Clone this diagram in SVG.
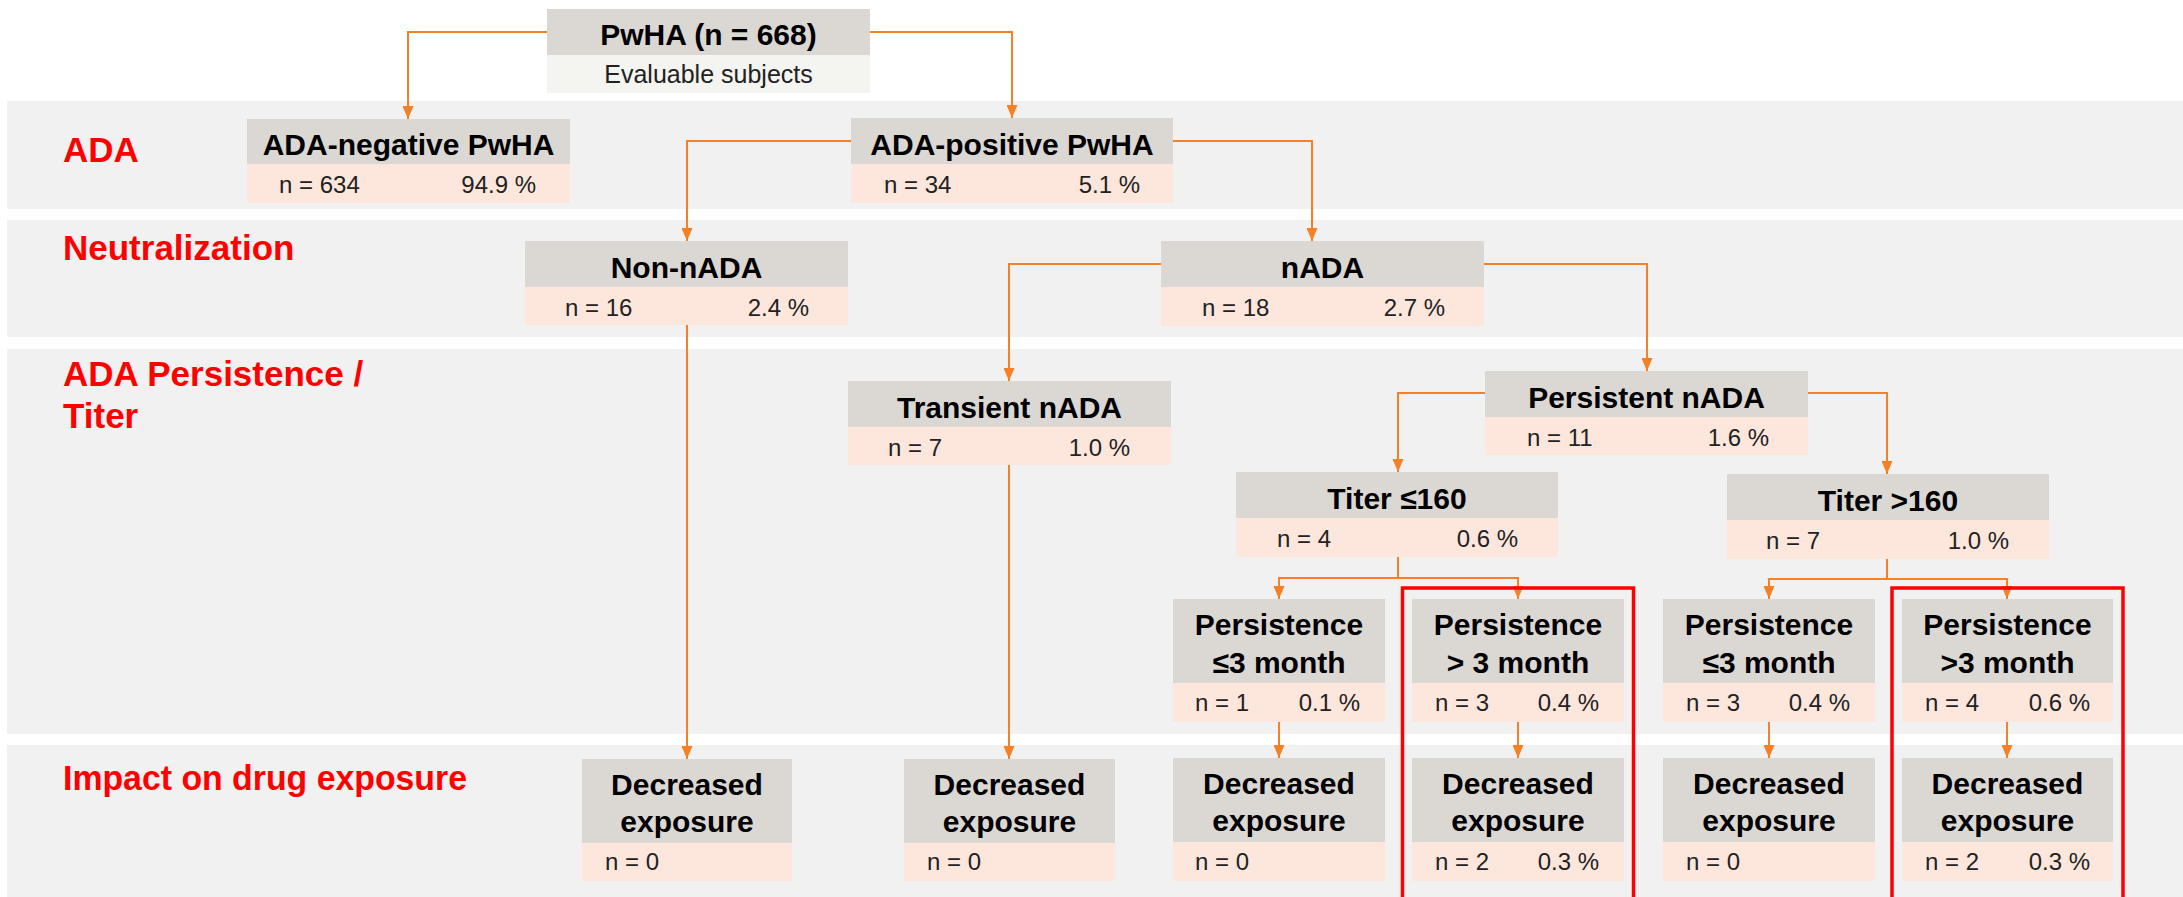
<svg xmlns="http://www.w3.org/2000/svg" width="2183" height="897" viewBox="0 0 2183 897">
<style>
.band{fill:#F1F1F1}
.hd{fill:#DBD7D3}
.pl{fill:#FDE7DD}
.sub{fill:#F4F4F0}
.t{font-family:"Liberation Sans",Arial,sans-serif;font-weight:700;font-size:30px;fill:#000;text-anchor:middle}
.s{font-family:"Liberation Sans",Arial,sans-serif;font-size:25px;fill:#222;text-anchor:middle}
.n{font-family:"Liberation Sans",Arial,sans-serif;font-size:24px;fill:#222}
.p{font-family:"Liberation Sans",Arial,sans-serif;font-size:24px;fill:#222;text-anchor:end}
.lbl{font-family:"Liberation Sans",Arial,sans-serif;font-weight:700;font-size:35px;fill:#FF0000}
.c{stroke:#F58025;stroke-width:2;fill:none}
.ca{stroke:#F58025;stroke-width:2;fill:none;marker-end:url(#ah)}
.red{fill:none;stroke:#FF0000;stroke-width:3.5}
</style>
<defs>
<marker id="ah" markerUnits="userSpaceOnUse" markerWidth="13" markerHeight="11" viewBox="0 0 13 11" refX="13" refY="5.5" orient="auto">
<path d="M0,0 L13,5.5 L0,11 z" fill="#F58025"/>
</marker>
</defs>
<rect width="2183" height="897" fill="#FFFFFF"/>
<g id="bands">
<rect class="band" x="7" y="101" width="2176" height="108"/>
<rect class="band" x="7" y="220" width="2176" height="117"/>
<rect class="band" x="7" y="349" width="2176" height="385"/>
<rect class="band" x="7" y="745" width="2176" height="152"/>
<text class="lbl" x="63" y="162">ADA</text>
<text class="lbl" x="63" y="260">Neutralization</text>
<text class="lbl" x="63" y="386">ADA Persistence /</text>
<text class="lbl" x="63" y="428">Titer</text>
<text class="lbl" x="63" y="790" textLength="404" lengthAdjust="spacingAndGlyphs">Impact on drug exposure</text>
</g>
<g id="connectors">
<path class="ca" d="M547,32 H408 V119"/>
<path class="ca" d="M870,32 H1012 V118"/>
<path class="ca" d="M851,141 H687 V241"/>
<path class="ca" d="M1173,141 H1312 V241"/>
<path class="ca" d="M687,325 V759"/>
<path class="ca" d="M1161,264 H1009 V381"/>
<path class="ca" d="M1484,264 H1647 V371"/>
<path class="ca" d="M1009,465 V759"/>
<path class="ca" d="M1485,393 H1398 V472"/>
<path class="ca" d="M1808,393 H1887 V474"/>
<path class="c" d="M1398,557 V578"/>
<path class="ca" d="M1398,578 H1279 V599"/>
<path class="ca" d="M1398,578 H1518 V599"/>
<path class="c" d="M1887,559 V579"/>
<path class="ca" d="M1887,579 H1769 V599"/>
<path class="ca" d="M1887,579 H2007 V599"/>
<path class="ca" d="M1279,722 V758"/>
<path class="ca" d="M1518,722 V758"/>
<path class="ca" d="M1769,722 V758"/>
<path class="ca" d="M2007,722 V758"/>
</g>
<g id="pwha">
<rect class="hd" x="547" y="9" width="323" height="46"/>
<rect class="sub" x="547" y="55" width="323" height="38"/>
<text class="t" x="708.5" y="45">PwHA (n = 668)</text>
<text class="s" x="708.5" y="83">Evaluable subjects</text>
</g>
<g id="ada-neg">
<rect class="hd" x="247" y="119" width="323" height="45"/>
<rect class="pl" x="247" y="164" width="323" height="39"/>
<text class="t" x="408.5" y="155">ADA-negative PwHA</text>
<text class="n" x="279" y="193">n = 634</text>
<text class="p" x="536" y="193">94.9 %</text>
</g>
<g id="ada-pos">
<rect class="hd" x="851" y="118" width="322" height="46"/>
<rect class="pl" x="851" y="164" width="322" height="39"/>
<text class="t" x="1012" y="155">ADA-positive PwHA</text>
<text class="n" x="884" y="193">n = 34</text>
<text class="p" x="1140" y="193">5.1 %</text>
</g>
<g id="non-nada">
<rect class="hd" x="525" y="241" width="323" height="46"/>
<rect class="pl" x="525" y="287" width="323" height="38"/>
<text class="t" x="686.5" y="278">Non-nADA</text>
<text class="n" x="565" y="316">n = 16</text>
<text class="p" x="809" y="316">2.4 %</text>
</g>
<g id="nada">
<rect class="hd" x="1161" y="241" width="323" height="46"/>
<rect class="pl" x="1161" y="287" width="323" height="39"/>
<text class="t" x="1322.5" y="278">nADA</text>
<text class="n" x="1202" y="316">n = 18</text>
<text class="p" x="1445" y="316">2.7 %</text>
</g>
<g id="transient">
<rect class="hd" x="848" y="381" width="323" height="46"/>
<rect class="pl" x="848" y="427" width="323" height="38"/>
<text class="t" x="1009.5" y="418">Transient nADA</text>
<text class="n" x="888" y="456">n = 7</text>
<text class="p" x="1130" y="456">1.0 %</text>
</g>
<g id="persistent">
<rect class="hd" x="1485" y="371" width="323" height="46"/>
<rect class="pl" x="1485" y="417" width="323" height="38"/>
<text class="t" x="1646.5" y="408">Persistent nADA</text>
<text class="n" x="1527" y="446">n = 11</text>
<text class="p" x="1769" y="446">1.6 %</text>
</g>
<g id="titer-le160">
<rect class="hd" x="1236" y="472" width="322" height="46"/>
<rect class="pl" x="1236" y="518" width="322" height="39"/>
<text class="t" x="1397" y="509">Titer ≤160</text>
<text class="n" x="1277" y="547">n = 4</text>
<text class="p" x="1518" y="547">0.6 %</text>
</g>
<g id="titer-gt160">
<rect class="hd" x="1727" y="474" width="322" height="46"/>
<rect class="pl" x="1727" y="520" width="322" height="39"/>
<text class="t" x="1888" y="511">Titer &gt;160</text>
<text class="n" x="1766" y="549">n = 7</text>
<text class="p" x="2009" y="549">1.0 %</text>
</g>
<g id="pers-a">
<rect class="hd" x="1173" y="599" width="212" height="84"/>
<rect class="pl" x="1173" y="683" width="212" height="39"/>
<text class="t" x="1279" y="635">Persistence</text>
<text class="t" x="1279" y="673">≤3 month</text>
<text class="n" x="1195" y="711">n = 1</text>
<text class="p" x="1360" y="711">0.1 %</text>
</g>
<g id="pers-b">
<rect class="hd" x="1412" y="599" width="212" height="84"/>
<rect class="pl" x="1412" y="683" width="212" height="39"/>
<text class="t" x="1518" y="635">Persistence</text>
<text class="t" x="1518" y="673">&gt; 3 month</text>
<text class="n" x="1435" y="711">n = 3</text>
<text class="p" x="1599" y="711">0.4 %</text>
</g>
<g id="pers-c">
<rect class="hd" x="1663" y="599" width="212" height="84"/>
<rect class="pl" x="1663" y="683" width="212" height="39"/>
<text class="t" x="1769" y="635">Persistence</text>
<text class="t" x="1769" y="673">≤3 month</text>
<text class="n" x="1686" y="711">n = 3</text>
<text class="p" x="1850" y="711">0.4 %</text>
</g>
<g id="pers-d">
<rect class="hd" x="1902" y="599" width="211" height="84"/>
<rect class="pl" x="1902" y="683" width="211" height="39"/>
<text class="t" x="2007.5" y="635">Persistence</text>
<text class="t" x="2007.5" y="673">&gt;3 month</text>
<text class="n" x="1925" y="711">n = 4</text>
<text class="p" x="2090" y="711">0.6 %</text>
</g>
<g id="dec-1">
<rect class="hd" x="582" y="759" width="210" height="84"/>
<rect class="pl" x="582" y="843" width="210" height="38"/>
<text class="t" x="687" y="795">Decreased</text>
<text class="t" x="687" y="832">exposure</text>
<text class="n" x="605" y="870">n = 0</text>
</g>
<g id="dec-2">
<rect class="hd" x="904" y="759" width="211" height="84"/>
<rect class="pl" x="904" y="843" width="211" height="38"/>
<text class="t" x="1009.5" y="795">Decreased</text>
<text class="t" x="1009.5" y="832">exposure</text>
<text class="n" x="927" y="870">n = 0</text>
</g>
<g id="dec-3">
<rect class="hd" x="1173" y="758" width="212" height="84"/>
<rect class="pl" x="1173" y="842" width="212" height="39"/>
<text class="t" x="1279" y="794">Decreased</text>
<text class="t" x="1279" y="831">exposure</text>
<text class="n" x="1195" y="870">n = 0</text>
</g>
<g id="dec-4">
<rect class="hd" x="1412" y="758" width="212" height="84"/>
<rect class="pl" x="1412" y="842" width="212" height="39"/>
<text class="t" x="1518" y="794">Decreased</text>
<text class="t" x="1518" y="831">exposure</text>
<text class="n" x="1435" y="870">n = 2</text>
<text class="p" x="1599" y="870">0.3 %</text>
</g>
<g id="dec-5">
<rect class="hd" x="1663" y="758" width="212" height="84"/>
<rect class="pl" x="1663" y="842" width="212" height="39"/>
<text class="t" x="1769" y="794">Decreased</text>
<text class="t" x="1769" y="831">exposure</text>
<text class="n" x="1686" y="870">n = 0</text>
</g>
<g id="dec-6">
<rect class="hd" x="1902" y="758" width="211" height="84"/>
<rect class="pl" x="1902" y="842" width="211" height="39"/>
<text class="t" x="2007.5" y="794">Decreased</text>
<text class="t" x="2007.5" y="831">exposure</text>
<text class="n" x="1925" y="870">n = 2</text>
<text class="p" x="2090" y="870">0.3 %</text>
</g>
<g id="highlights">
<rect class="red" x="1402.5" y="588" width="231" height="330"/>
<rect class="red" x="1892" y="588" width="231" height="330"/>
</g>
</svg>
